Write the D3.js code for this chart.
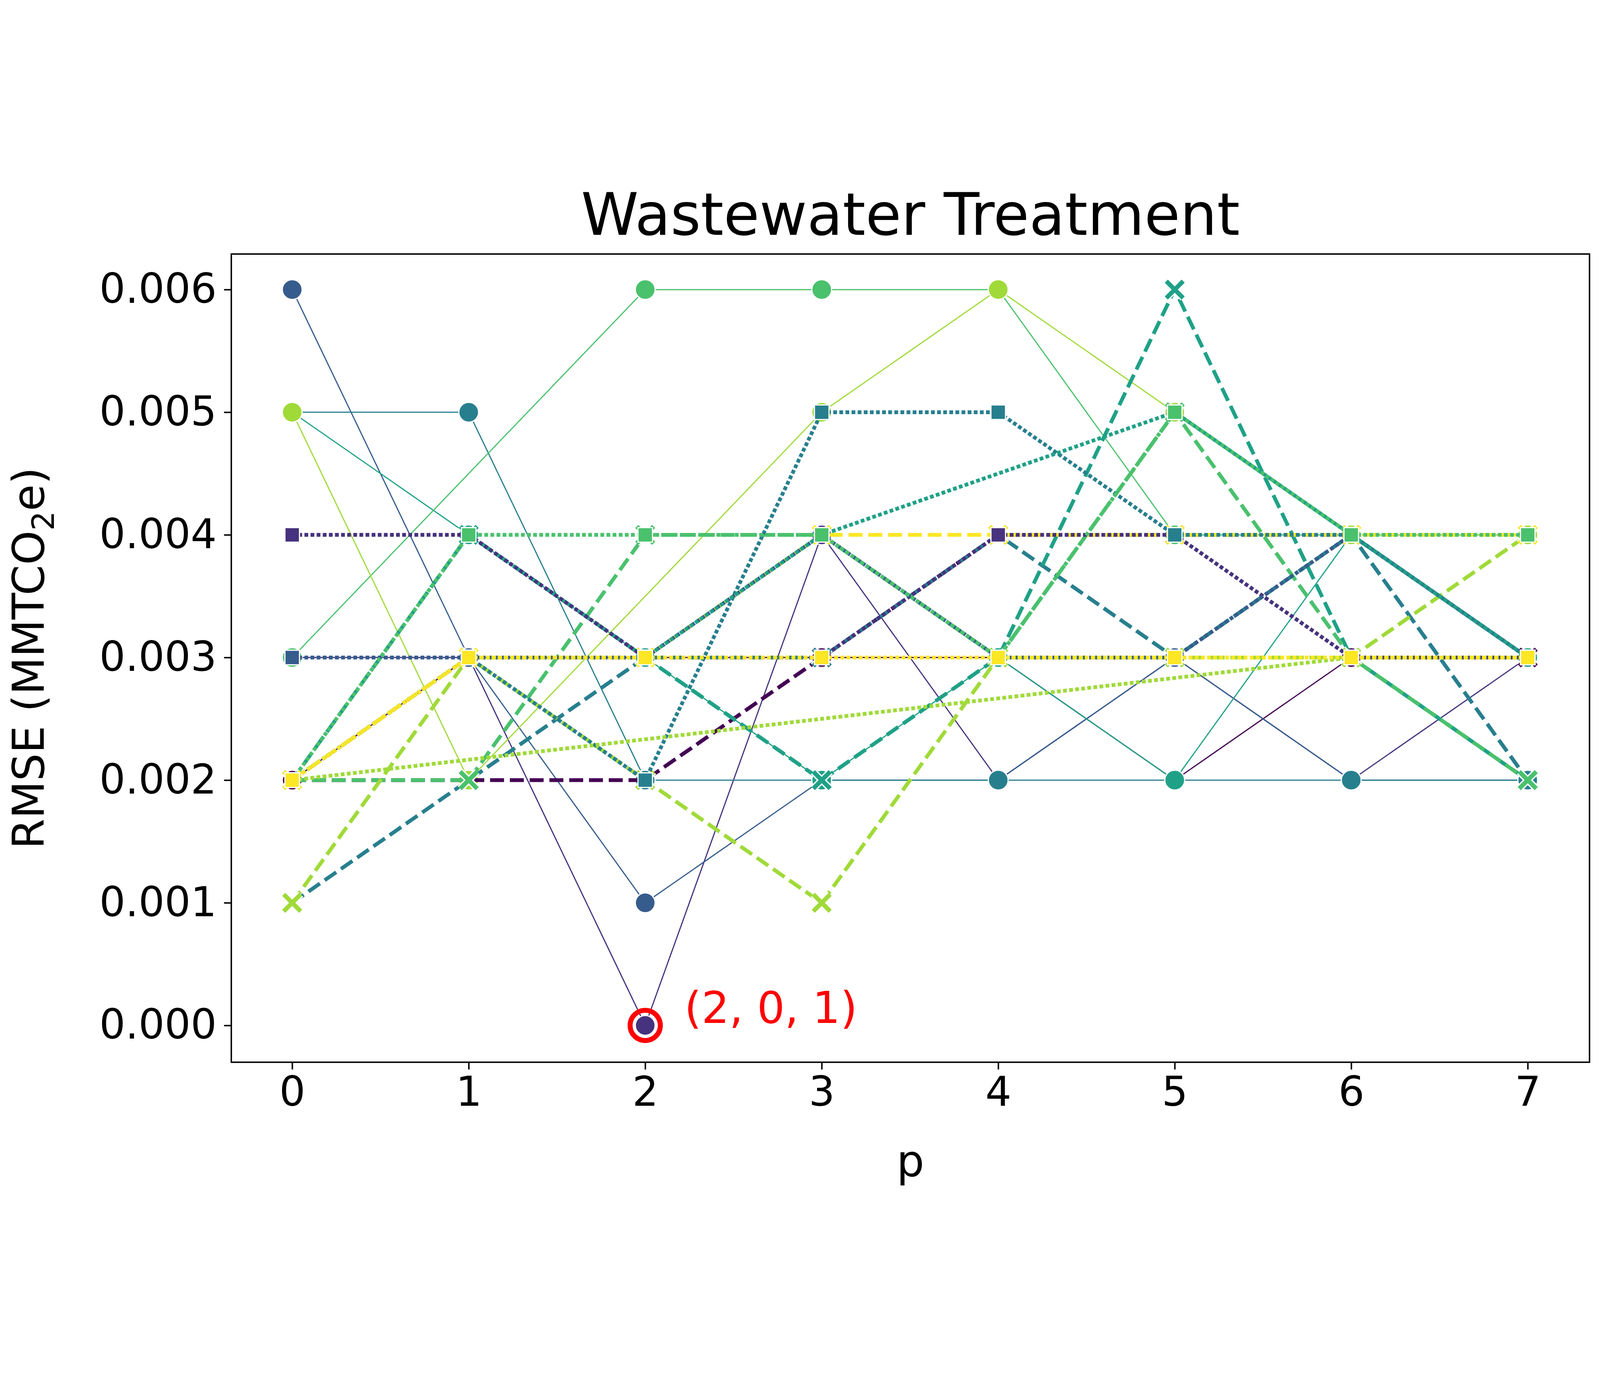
<!DOCTYPE html>
<html><head><meta charset="utf-8">
<script src="https://cdn.jsdelivr.net/npm/d3@7"></script>
<style>html,body{margin:0;padding:0;background:#fff;overflow:hidden}svg{display:block;width:100vw;height:100vh}text{font-family:"DejaVu Sans",sans-serif}</style>
</head><body><svg id="c" viewBox="0 0 5499 3514" preserveAspectRatio="xMidYMid meet"></svg>
<script>
const pValues = [0, 1, 2, 3, 4, 5, 6, 7];
const yTicks = [0, 0.001, 0.002, 0.003, 0.004, 0.005, 0.006];
// hue index (0..7), rmse per p (null = no point)
const solidSeries = [
  {h: 0, v: [.002, .003, .003, .003, .003, .002, .003, .003]},
  {h: 1, v: [.003, .003, .000, .004, .002, .003, .002, .003]},
  {h: 2, v: [.006, .003, .001, .002, .002, .003, .002, .002]},
  {h: 3, v: [.005, .005, .002, .002, .002, .002, .002, .002]},
  {h: 4, v: [.005, .004, .003, .002, .003, .002, .004, .003]},
  {h: 5, v: [.003, null, .006, .006, .006, .004, .004, .004]},
  {h: 6, v: [.005, .002, null, .005, .006, .005, .004, .004]}
];
const dashSeries = [
  {h: 0, v: [.002, .002, .002, .003, .004, .004, .004, .003]},
  {h: 3, v: [.001, .002, .003, .003, .004, .003, .004, .002]},
  {h: 4, v: [.002, .004, .003, .002, .003, .006, .003, .002]},
  {h: 5, v: [.002, .002, .004, .004, .003, .005, .003, .002]},
  {h: 6, v: [.001, .003, .002, .001, .003, .003, .003, .004]},
  {h: 7, v: [.002, .003, .003, .004, .004, .004, .004, .004]}
];
const dotSeries = [
  {h: 1, v: [.004, .004, .003, .003, .004, .004, .003, .003]},
  {h: 2, v: [.003, .003, .003, .004, .003, .003, .004, .003]},
  {h: 3, v: [.002, .003, .002, .005, .005, .004, .004, .003]},
  {h: 4, v: [.002, .003, .003, .004, null, .005, .004, .003]},
  {h: 5, v: [.002, .004, .004, .004, .003, .005, .004, .004]},
  {h: 6, v: [.002, null, null, null, null, null, .003, .003]},
  {h: 7, v: [.002, .003, .003, .003, .003, .003, .003, .003]}
];
const best = {p: 2, v: 0, label: '(2, 0, 1)'};

const L = 795, R = 5463, T = 271, B = 3048;
const svg = d3.select('#c');
const x = d3.scaleLinear().domain([-0.345, 7.35]).range([L, R]);
const y = d3.scaleLinear().domain([-0.0003, 0.00629]).range([B, T]);
const col = h => d3.interpolateViridis(h / 7);

const xa = svg.append('g').attr('transform', `translate(0,${B})`)
  .call(d3.axisBottom(x).tickValues(pValues).tickFormat(d3.format('d')).tickSize(25).tickPadding(25));
const ya = svg.append('g').attr('transform', `translate(${L},0)`)
  .call(d3.axisLeft(y).tickValues(yTicks).tickFormat(d3.format('.3f')).tickSize(25).tickPadding(25));
[xa, ya].forEach(a => {
  a.selectAll('text').attr('font-size', 141).attr('fill', '#000');
  a.selectAll('line').attr('stroke-width', 5);
  a.select('.domain').remove();
});
svg.append('rect').attr('x', L).attr('y', T).attr('width', R - L).attr('height', B - T)
  .attr('fill', 'none').attr('stroke', '#000').attr('stroke-width', 5);

const line = d3.line().x(d => x(d.p)).y(d => y(d.v));
function drawSeries(list, kind) {
  list.forEach(s => {
    const pts = s.v.map((v, i) => ({p: pValues[i], v})).filter(d => d.v !== null);
    const g = svg.append('g');
    g.append('path').attr('d', line(pts)).attr('fill', 'none').attr('stroke', col(s.h))
      .attr('stroke-width', kind === 'solid' ? 4 : 13)
      .attr('stroke-dasharray', kind === 'dash' ? '48,20' : kind === 'dot' ? '13,8' : null);
    pts.forEach(d => {
      const cx = x(d.p), cy = y(d.v);
      if (kind === 'solid') {
        g.append('circle').attr('cx', cx).attr('cy', cy).attr('r', 34)
          .attr('fill', col(s.h)).attr('stroke', '#fff').attr('stroke-width', 4);
      } else if (kind === 'dot') {
        g.append('rect').attr('x', cx - 25).attr('y', cy - 25).attr('width', 50).attr('height', 50)
          .attr('fill', col(s.h)).attr('stroke', '#fff').attr('stroke-width', 4);
      } else {
        const sym = d3.symbol(d3.symbolX, 2200)();
        g.append('path').attr('d', sym).attr('transform', `translate(${cx},${cy})`)
          .attr('fill', 'none').attr('stroke', '#fff').attr('stroke-width', 24);
        g.append('path').attr('d', sym).attr('transform', `translate(${cx},${cy})`)
          .attr('fill', 'none').attr('stroke', col(s.h)).attr('stroke-width', 15);
      }
    });
  });
}
drawSeries(solidSeries, 'solid');
drawSeries(dashSeries, 'dash');
drawSeries(dotSeries, 'dot');

svg.append('circle').attr('cx', x(best.p)).attr('cy', y(best.v)).attr('r', 52)
  .attr('fill', 'none').attr('stroke', 'red').attr('stroke-width', 17);
svg.append('text').attr('x', x(best.p) + 135).attr('y', y(best.v) - 50).attr('font-size', 150)
  .attr('fill', 'red').attr('dominant-baseline', 'middle').text(best.label);

svg.append('text').attr('x', (L + R) / 2).attr('y', 205).attr('text-anchor', 'middle')
  .attr('font-size', 200).text('Wastewater Treatment');
svg.append('text').attr('x', (L + R) / 2).attr('y', 3440).attr('text-anchor', 'middle')
  .attr('font-size', 150).text('p');
const yl = svg.append('text').attr('transform', `translate(150,${(T + B) / 2}) rotate(-90)`)
  .attr('text-anchor', 'middle').attr('font-size', 150);
yl.append('tspan').text('RMSE (MMTCO');
yl.append('tspan').attr('font-size', 105).attr('dy', 35).text('2');
yl.append('tspan').attr('dy', -35).text('e)');
</script></body></html>
